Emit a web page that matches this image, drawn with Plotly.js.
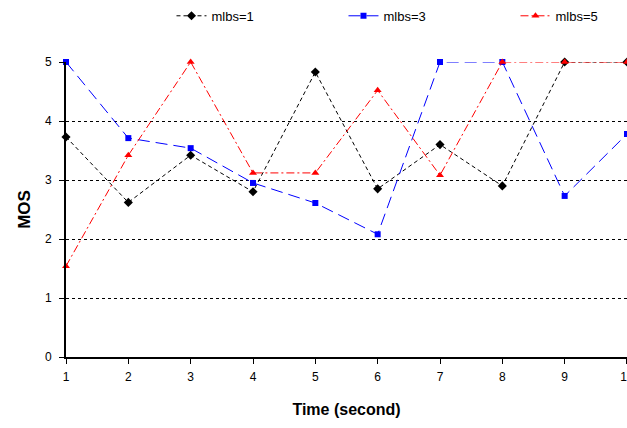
<!DOCTYPE html>
<html><head><meta charset="utf-8">
<script src="https://cdn.plot.ly/plotly-3.0.1.min.js"></script>
<style>html,body{margin:0;padding:0;background:#fff}</style>
</head><body>
<div id="chart" style="width:627px;height:428px"></div>
<script>
const time = [1,2,3,4,5,6,7,8,9,10];
const mlbs1 = [3.73,2.62,3.42,2.80,4.83,2.85,3.60,2.90,5,5];
const mlbs3 = [5,3.71,3.54,2.95,2.61,2.08,5,5,2.73,3.78];
const mlbs5 = [1.54,3.42,5,3.12,3.12,4.52,3.08,5,5,5];
const names = ['mlbs=1','mlbs=3','mlbs=5'];

const traces = [
  {x: time, y: mlbs1, name: names[0], mode:'lines+markers',
   line:{color:'#000000', width:1, dash:'4px,3px'}, marker:{symbol:'diamond', size:7, color:'#000000'}},
  {x: time, y: mlbs3, name: names[1], mode:'lines+markers',
   line:{color:'#0000ff', width:1, dash:'12px,6px'}, marker:{symbol:'square', size:6, color:'#0000ff'}},
  {x: time, y: mlbs5, name: names[2], mode:'lines+markers',
   line:{color:'#ff0000', width:1, dash:'8px,3px,2px,3px'}, marker:{symbol:'triangle-up', size:7, color:'#ff0000'}}
];
traces.forEach(t => t.cliponaxis = false);

const layout = {
  width:627, height:428,
  margin:{l:66, r:0, t:62, b:71},
  paper_bgcolor:'#fff', plot_bgcolor:'#fff',
  font:{family:'Liberation Sans, Arial, sans-serif', size:12, color:'#000'},
  showlegend:true,
  legend:{orientation:'h', xref:'container', yref:'container', x:0.685, xanchor:'center', y:0.963, yanchor:'middle',
          font:{size:13, color:'#000'}, entrywidth:127, entrywidthmode:'pixels', tracegroupgap:0},
  xaxis:{range:[1,10.0001], tickvals:time, showgrid:false, zeroline:false, automargin:false,
         showline:true, linecolor:'#000', linewidth:2, ticks:'outside', ticklen:5, tickcolor:'#000',
         tickfont:{size:12}, ticklabeloverflow:'allow', ticklabelstandoff:3,
         title:{text:'<b>Time (second)</b>', font:{size:16}, standoff:20}},
  yaxis:{range:[0,5], tickvals:[0,1,2,3,4,5], showgrid:true, gridcolor:'#000', griddash:'dot', gridwidth:1,
         zeroline:false, showline:true, linecolor:'#000', linewidth:2, ticks:'outside', ticklen:5, tickcolor:'#000',
         tickfont:{size:12}, ticklabelstandoff:5, automargin:false,
         title:{text:'<b>MOS</b>', font:{size:17}, standoff:10}}
};
Plotly.newPlot('chart', traces, layout, {displayModeBar:false, staticPlot:true});
</script>
</body></html>
